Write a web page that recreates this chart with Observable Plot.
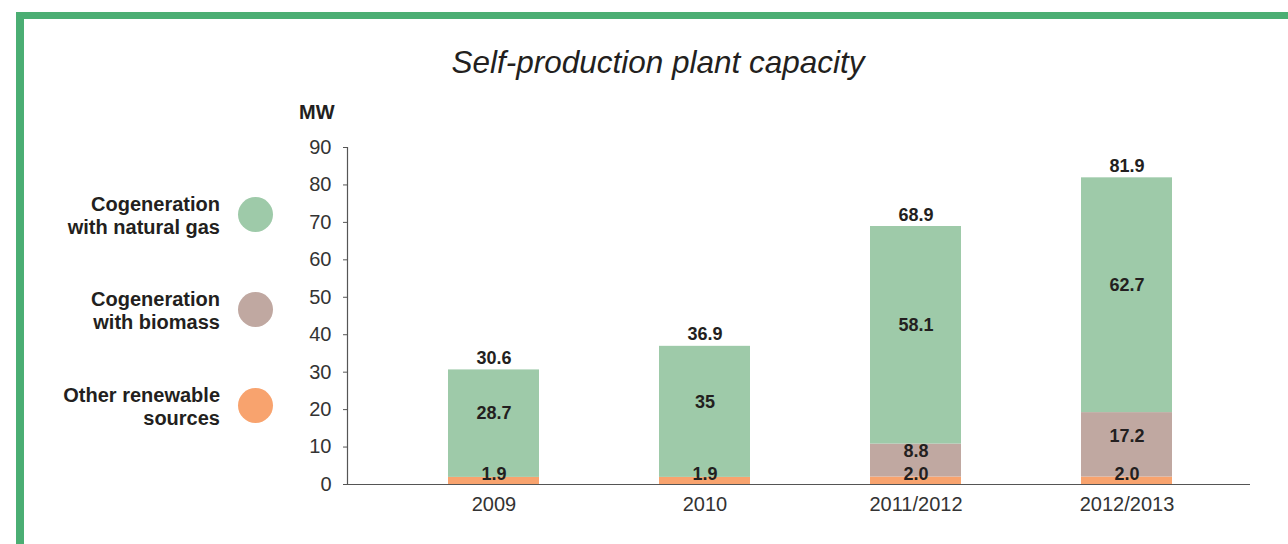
<!DOCTYPE html>
<html>
<head>
<meta charset="utf-8">
<script src="https://cdn.jsdelivr.net/npm/d3@7"></script>
<script src="https://cdn.jsdelivr.net/npm/@observablehq/plot@0.6"></script>
<style>
  html, body { margin: 0; padding: 0; background: #fff; }
  body { width: 1288px; height: 544px; position: relative; overflow: hidden; font-family: "Liberation Sans", Arial, sans-serif; color: #231f20; }
  #frame { position: absolute; left: 16px; top: 12px; width: 1400px; height: 700px; border-top: 7px solid #4bae73; border-left: 8px solid #4bae73; box-sizing: border-box; }
  #title { position: absolute; left: 0; width: 1316px; top: 44px; text-align: center; font-style: italic; font-size: 31.5px; line-height: 36px; color: #231f20; }
  #unit { position: absolute; left: 299px; top: 100px; font-weight: bold; font-size: 20px; line-height: 24px; }
  .leg { position: absolute; left: 0; width: 220px; text-align: right; font-weight: bold; font-size: 20px; line-height: 23px; }
  .dot { position: absolute; width: 35px; height: 35px; border-radius: 50%; left: 238px; }
  #chart { position: absolute; left: 0; top: 0; }
</style>
</head>
<body>
<div id="frame"></div>
<div id="chart"></div>
<div id="title">Self-production plant capacity</div>
<div id="unit">MW</div>
<div id="legend"></div>
<script>
const categories = ["2009", "2010", "2011/2012", "2012/2013"];
const seriesNames = ["Other renewable sources", "Cogeneration with biomass", "Cogeneration with natural gas"];
const legendLines = [["Cogeneration", "with natural gas"], ["Cogeneration", "with biomass"], ["Other renewable", "sources"]];
const otherRenewable = [1.9, 1.9, 2.0, 2.0];
const biomass = [0, 0, 8.8, 17.2];
const naturalGas = [28.7, 35, 58.1, 62.7];
const totals = [30.6, 36.9, 68.9, 81.9];
const colors = ["#f8a36e", "#c0a8a1", "#9ecaa9"];
const yTicks = [0, 10, 20, 30, 40, 50, 60, 70, 80, 90];

const seriesValues = [otherRenewable, biomass, naturalGas];
const rows = [];
categories.forEach((c, i) => {
  let base = 0;
  seriesValues.forEach((vals, s) => {
    const v = vals[i];
    rows.push({cat: c, series: seriesNames[s], value: v, y1: base, y2: base + v, s});
    base += v;
  });
});
const nonzero = rows.filter(d => d.value > 0);
const otherLabels = nonzero.filter(d => d.s === 0);
const bioLabels = nonzero.filter(d => d.s === 1);
const gasLabels = nonzero.filter(d => d.s === 2);
const totalRows = categories.map((c, i) => ({cat: c, total: totals[i]}));

const fmt = v => (v === 35 ? "35" : v.toFixed(1));

const chart = Plot.plot({
  width: 1288,
  height: 544,
  marginLeft: 347,
  marginRight: 38,
  marginTop: 147,
  marginBottom: 60,
  style: {fontFamily: "'Liberation Sans', Arial, sans-serif", color: "#231f20", background: "transparent"},
  x: {domain: categories, paddingInner: 0.57, paddingOuter: 0.415, align: 0.563, label: null},
  y: {domain: [0, 90], label: null},
  color: {domain: seriesNames, range: colors},
  marks: [
    Plot.rectY(rows, {x: "cat", y1: "y1", y2: "y2", fill: "series"}),
    Plot.frame({anchor: "left", stroke: "#555", strokeWidth: 1.2}),
    Plot.ruleY([0], {stroke: "#555", strokeWidth: 1.2}),
    Plot.axisY({ticks: yTicks, tickSize: 4, tickPadding: 12, fontSize: 20, tickFormat: d => String(d), stroke: "#555", color: "#333", label: null}),
    Plot.axisX({tickSize: 0, tickPadding: 12, fontSize: 20, color: "#333", label: null}),
    Plot.text(otherLabels, {x: "cat", y: "y2", text: d => fmt(d.value), lineAnchor: "bottom", dy: 3, fontWeight: "bold", fontSize: 18, fill: "#231f20"}),
    Plot.text(bioLabels, {x: "cat", y: d => (d.y1 + d.y2) / 2, text: d => fmt(d.value), dy: -9, fontWeight: "bold", fontSize: 18, fill: "#231f20"}),
    Plot.text(gasLabels, {x: "cat", y: d => (d.y1 + d.y2) / 2, text: d => fmt(d.value), dy: -10, fontWeight: "bold", fontSize: 18, fill: "#231f20"}),
    Plot.text(totalRows, {x: "cat", y: "total", text: d => fmt(d.total), lineAnchor: "bottom", dy: -6, fontWeight: "bold", fontSize: 18, fill: "#231f20"})
  ]
});
document.getElementById("chart").appendChild(chart);

// legend (top to bottom: natural gas, biomass, other)
const legendColors = [colors[2], colors[1], colors[0]];
const legendCenters = [214, 309, 405];
const legend = document.getElementById("legend");
legendLines.forEach((lines, i) => {
  const t = document.createElement("div");
  t.className = "leg";
  t.style.top = (legendCenters[i] + 2 - 23) + "px";
  t.innerHTML = lines.join("<br>");
  legend.appendChild(t);
  const d = document.createElement("div");
  d.className = "dot";
  d.style.top = (legendCenters[i] - 17.5) + "px";
  d.style.background = legendColors[i];
  legend.appendChild(d);
});
</script>
</body>
</html>
